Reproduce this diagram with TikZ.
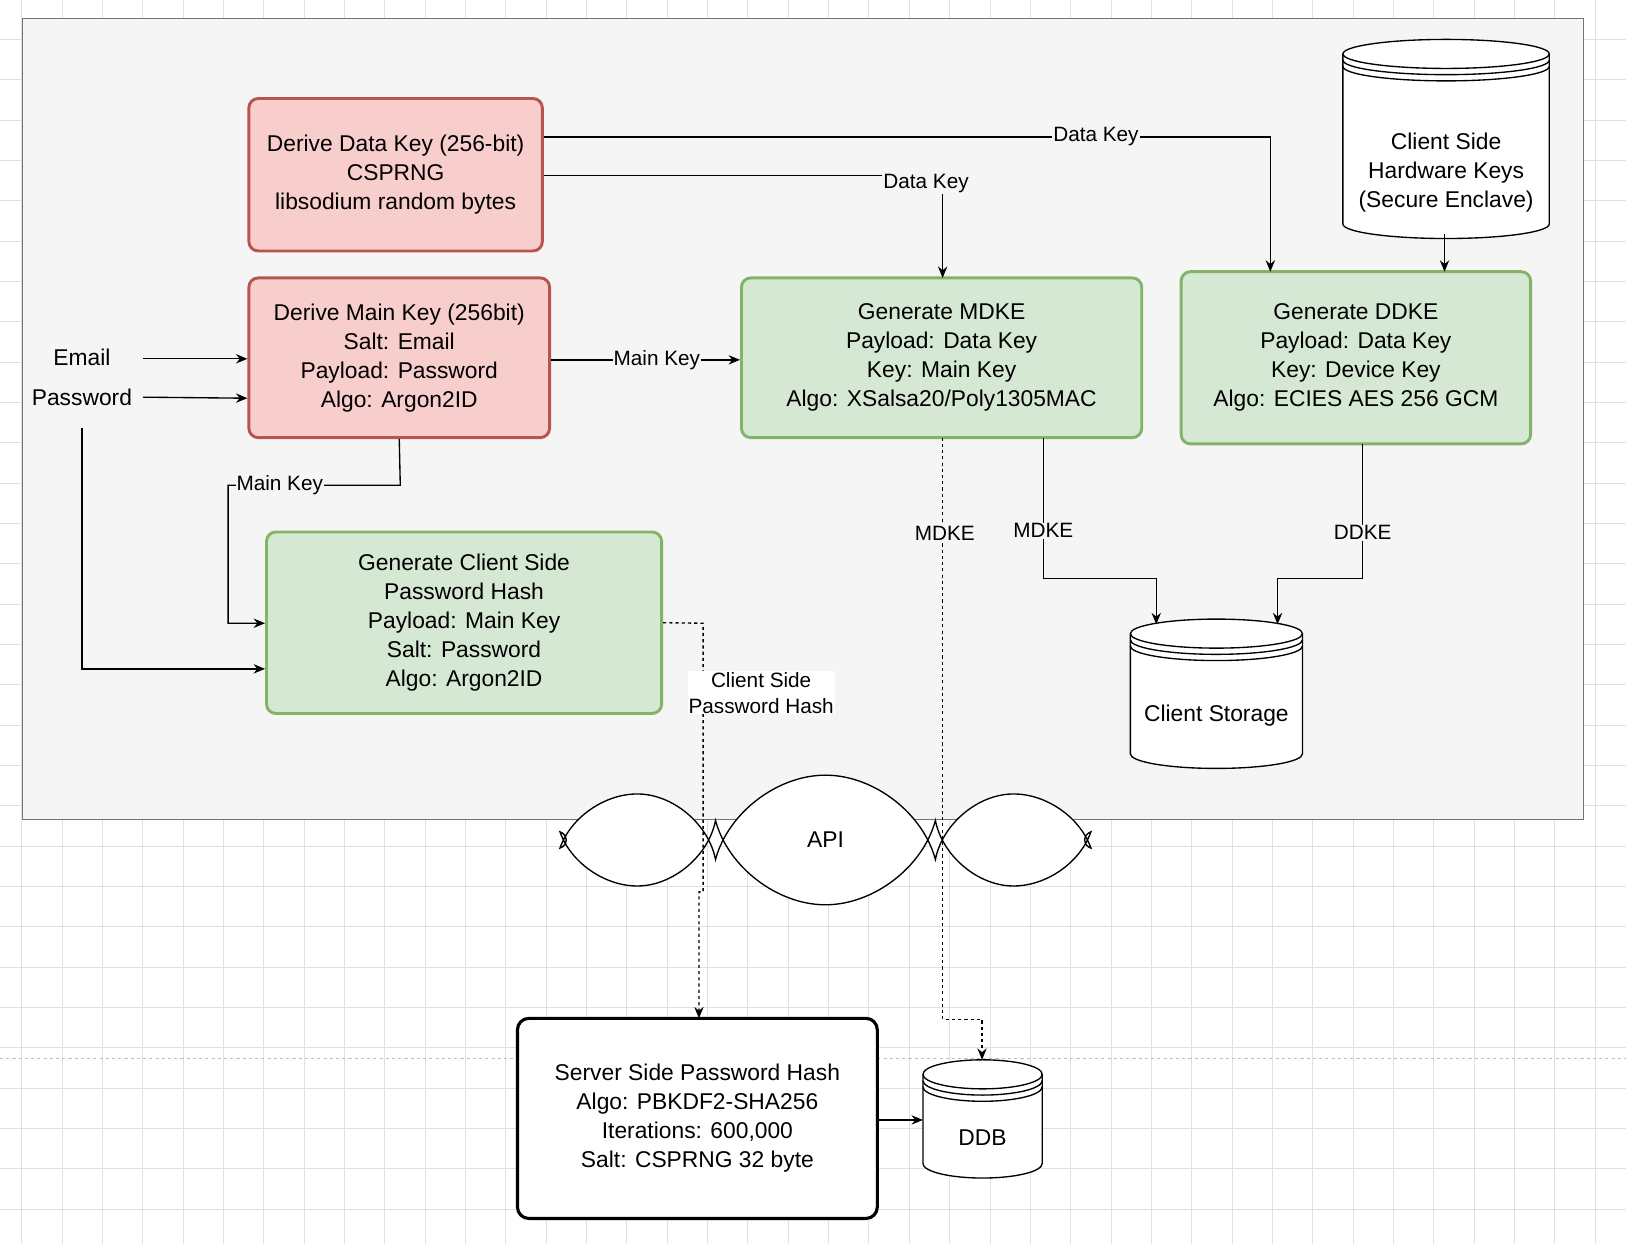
\documentclass[tikz,border=0pt]{standalone}
\usepackage{fontspec}
\setmainfont{Liberation Sans}
\usetikzlibrary{shapes.symbols,arrows.meta,calc}
\definecolor{redf}{HTML}{F8CECC}\definecolor{redd}{HTML}{B85450}
\definecolor{grnf}{HTML}{D5E8D4}\definecolor{grnd}{HTML}{82B366}
\newcommand{\dstore}[7]{% name cx cy w h text textoffset
  \pgfmathsetmacro{\L}{#2-#4/2}\pgfmathsetmacro{\R}{#2+#4/2}
  \pgfmathsetmacro{\T}{#3-#5/2}\pgfmathsetmacro{\B}{#3+#5/2}
  \draw[line width=1.3pt,fill=white] (\L,\T+14) -- (\L,\B-14) arc(180:0:#4/2 and 14) -- (\R,\T+14) arc(0:-180:#4/2 and 14) -- cycle;
  \draw[line width=1.3pt] (\L,\T+14) arc(180:0:#4/2 and 14);
  \draw[line width=1.3pt] (\L,\T+20) arc(180:0:#4/2 and 14);
  \draw[line width=1.3pt] (\L,\T+26) arc(180:0:#4/2 and 14);
  \node[txt,minimum width=#4pt,minimum height=#5pt,inner sep=0pt] (#1) at (#2,#3) {};
  \node[txt] at (#2,#3+#7) {#6};}
\begin{document}
\begin{tikzpicture}[x=1pt,y=-1pt,
  txt/.style={font=\fontsize{22}{28}\selectfont,align=center},
  box/.style={txt,draw,line width=2.8pt,rounded corners=9pt,inner sep=0pt},
  red/.style={box,fill=redf,draw=redd},
  grn/.style={box,fill=grnf,draw=grnd},
  ar/.style={-{Stealth[length=11pt,width=9pt]},line width=1.3pt},
  lab/.style={font=\fontsize{20}{25}\selectfont,fill=#1,inner sep=1pt,align=center},
  lab/.default={white}]
\useasboundingbox (0,0) rectangle (1568,1200);
\fill[white] (0,0) rectangle (1568,1200);
\foreach \i in {0,...,41} {
  \draw[black!12,line width=0.8pt] (21+\i*38.9,0) -- (21+\i*38.9,1200);
  \draw[black!12,line width=0.8pt] (0,-1+\i*38.9) -- (1568,-1+\i*38.9);}
\draw[black!25,dashed,line width=1pt] (0,1021) -- (1568,1021);
\draw[fill=black!4,draw=black!55,line width=1.3pt] (22,18) rectangle (1527,790);
\node[cloud,cloud puffs=8,cloud puff arc=150,aspect=3.8,draw,fill=white,line width=1.3pt,minimum width=500pt,minimum height=125pt,txt] (api) at (796,810) {API};

\node[red,minimum width=283pt,minimum height=147pt] (dk) at (381.5,168.5) {Derive Data Key (256-bit)\\CSPRNG\\libsodium random bytes};
\node[red,minimum width=290pt,minimum height=154pt] (mk) at (385,345) {Derive Main Key (256bit)\\Salt: Email\\Payload: Password\\Algo: Argon2ID};
\node[grn,minimum width=386pt,minimum height=154pt] (mdke) at (908,345) {Generate MDKE\\Payload: Data Key\\Key: Main Key\\Algo: XSalsa20/Poly1305MAC};
\node[grn,minimum width=337pt,minimum height=166pt] (ddke) at (1307.5,345) {Generate DDKE\\Payload: Data Key\\Key: Device Key\\Algo: ECIES AES 256 GCM};
\node[grn,minimum width=381pt,minimum height=175pt] (csph) at (447.5,600.5) {Generate Client Side\\Password Hash\\Payload: Main Key\\Salt: Password\\Algo: Argon2ID};
\node[box,fill=white,draw=black,rounded corners=11pt,line width=3pt,minimum width=347pt,minimum height=193pt] (srv) at (672.5,1078.5) {Server Side Password Hash\\Algo: PBKDF2-SHA256\\Iterations: 600,000\\Salt: CSPRNG 32 byte};
\dstore{hw}{1394.5}{134}{199}{192}{Client Side\\Hardware Keys\\(Secure Enclave)}{32}
\dstore{cs}{1173}{669}{166}{144}{Client Storage}{21}
\dstore{ddb}{947.5}{1079}{115}{114}{DDB}{18}
\node[txt] (em) at (79,345) {Email};
\node[txt] (pw) at (79,383) {Password};

\draw[ar] (138,346) -- (mk.west|-0,346);
\draw[ar] (138,383) -- (mk.west|-0,384);
\draw[ar] (79,413) -- (79,645) -- (csph.west|-0,645);
\draw[ar] (mk.south) -- (386,468) -- node[lab={black!4},pos=0.7]{Main Key} (220,468) -- (220,601) -- (csph.west|-0,601);
\draw[ar] (mk.east|-0,347) -- node[lab={black!4},pos=0.56]{Main Key} (mdke.west|-0,347);
\draw[ar] (dk.east|-0,132) -- node[lab={black!4},pos=0.76]{Data Key} (1225,132) -- (1225,262);
\draw[ar] (dk.east|-0,169) -- (909,169) -- (909,268);
\node[lab={black!4}] at (893,177) {Data Key};
\draw[ar] (1393,226) -- (1393,262);
\draw[ar] (1006,422) -- node[lab={black!4},pos=0.66]{MDKE} (1006,558) -- (1115,558) -- (1115,602);
\draw[ar] (1314,428) -- node[lab={black!4},pos=0.66]{DDKE} (1314,558) -- (1232,558) -- (1232,602);
\draw[ar,dashed] (909,422) -- (909,983) -- (947,983) -- (947,1022);
\node[lab={black!4}] at (911,514) {MDKE};
\draw[ar,dashed] (csph.east) -- (678,601) -- (678,860) -- (674,860) -- (674,982);
\node[lab] at (734,668) {Client Side\\Password Hash};
\draw[ar] (srv.east|-0,1080) -- (890,1080);
\end{tikzpicture}
\end{document}
